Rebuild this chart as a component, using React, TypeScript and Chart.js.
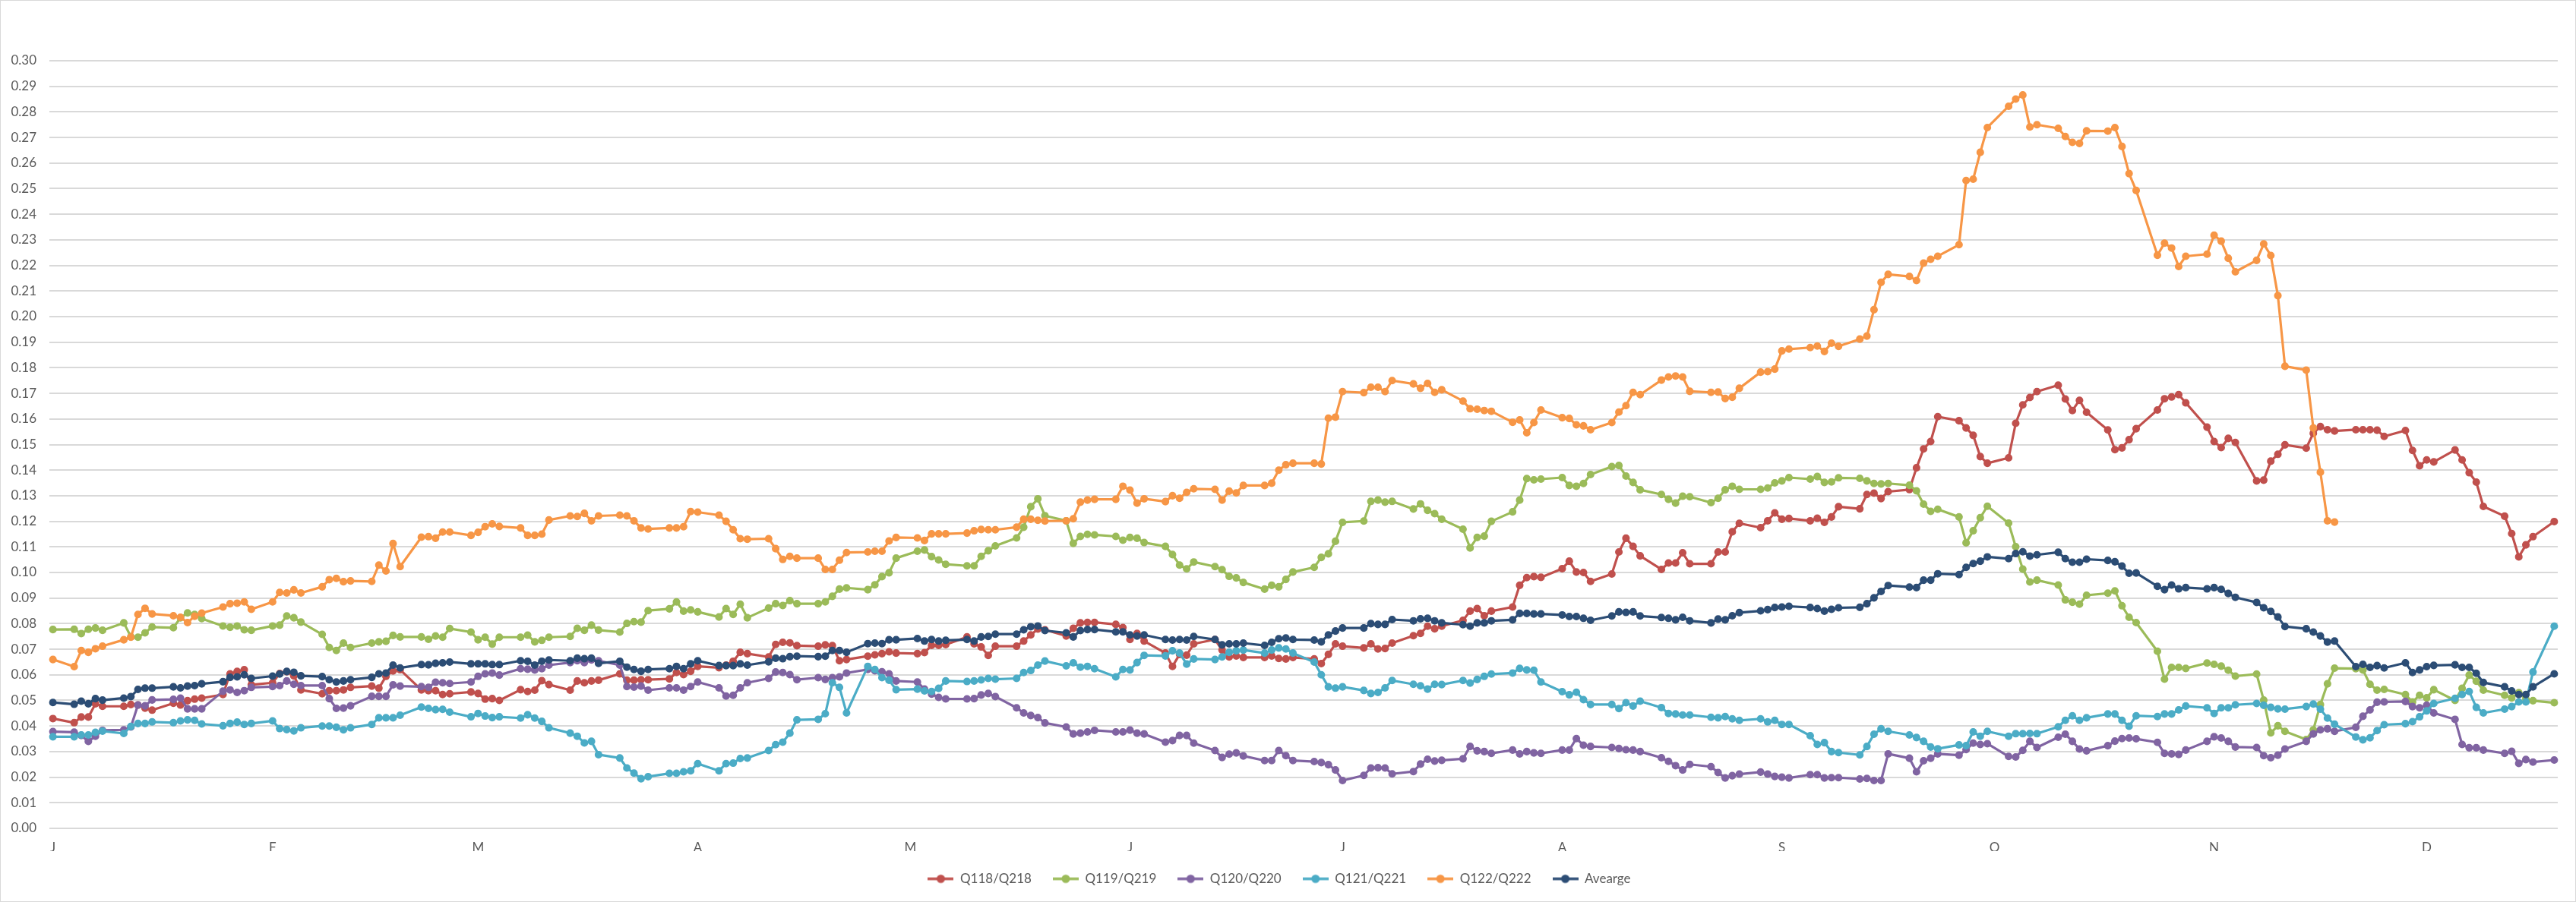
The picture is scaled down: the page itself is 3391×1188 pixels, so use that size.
import { useEffect, useRef } from "react"
import { Chart, registerables } from "chart.js"

Chart.register(...registerables)

// x axis: one letter per month, placed on the first day of the month
// (day 0 = Jan 1 of a leap year that starts on a Friday)
const monthLabels = ["J", "F", "M", "A", "M", "J", "J", "A", "S", "O", "N", "D"]
const monthStartDays = [0, 31, 60, 91, 121, 152, 182, 213, 244, 274, 305, 335]
const lastDay = 353 // Dec 19

// y axis ticks
const yTicks = { min: 0, max: 0.3, step: 0.01 }

const seriesNames = ["Q118/Q218", "Q119/Q219", "Q120/Q220", "Q121/Q221", "Q122/Q222", "Avearge"]
const seriesColors = ["#C0504D", "#9BBB59", "#8064A2", "#4BACC6", "#F79646", "#2C4D75"]

// one value per weekday, from Jan 1 to the last day (rows roughly = months)
const q118 = [
  0.0429, 0.0413, 0.0435, 0.0435, 0.0487, 0.0477, 0.0477, 0.0484, 0.0482, 0.047, 0.0462, 0.0489, 0.0482, 0.0499, 0.0505, 0.0509, 0.0523, 0.0604, 0.0613, 0.062, 0.0561,
  0.0569, 0.0605, 0.0612, 0.0596, 0.0541, 0.0526, 0.0538, 0.0538, 0.0541, 0.0551, 0.0556, 0.0548, 0.0594, 0.0615, 0.062, 0.0541, 0.0538, 0.0538, 0.0523, 0.0526,
  0.0533, 0.0527, 0.0505, 0.0507, 0.05, 0.0542, 0.0535, 0.054, 0.0577, 0.0562, 0.054, 0.0576, 0.0569, 0.0576, 0.0579, 0.0604, 0.0579, 0.0579, 0.0581, 0.0581, 0.0584, 0.0609, 0.0601,
  0.0614, 0.0633, 0.0628, 0.0638, 0.0653, 0.0688, 0.0683, 0.067, 0.0719, 0.0727, 0.0725, 0.0714, 0.0712, 0.0717, 0.0714, 0.0655, 0.066, 0.0673, 0.0678, 0.0683, 0.069, 0.0685,
  0.0683, 0.0687, 0.0715, 0.0715, 0.0718, 0.0748, 0.0721, 0.0709, 0.0676, 0.0712, 0.0712, 0.0732, 0.0756, 0.0779, 0.0776, 0.0752, 0.0782, 0.0803, 0.0805, 0.0805, 0.0797,
  0.0785, 0.0738, 0.0762, 0.0732, 0.0685, 0.0633, 0.068, 0.0677, 0.0721, 0.0738, 0.0697, 0.067, 0.0674, 0.0668, 0.0668, 0.0674, 0.0664, 0.0662, 0.0668, 0.0662, 0.0644, 0.068,
  0.0721, 0.0712, 0.0705, 0.0721, 0.0701, 0.0703, 0.0724, 0.0753, 0.0762, 0.079, 0.078, 0.079, 0.0813, 0.0849, 0.0859, 0.0831, 0.0849, 0.0865, 0.095, 0.098, 0.0984, 0.0981,
  0.1015, 0.1044, 0.1002, 0.1, 0.0965, 0.0994, 0.108, 0.1134, 0.1102, 0.1065, 0.1012, 0.1037, 0.1037, 0.1077, 0.1034, 0.1034, 0.108, 0.108, 0.1159, 0.1192, 0.1175, 0.1202,
  0.1233, 0.1208, 0.1211, 0.1202, 0.1212, 0.1196, 0.1217, 0.1257, 0.1249, 0.1305, 0.131, 0.1289, 0.1316, 0.1324, 0.1409, 0.1483, 0.1512, 0.1609, 0.1593, 0.1565, 0.1536, 0.1453,
  0.1427, 0.1448, 0.1583, 0.1655, 0.1684, 0.1707, 0.1732, 0.1678, 0.1633, 0.1673, 0.1626, 0.1557, 0.148, 0.1487, 0.1519, 0.1562, 0.1635, 0.1679, 0.1686, 0.1695, 0.1663,
  0.1568, 0.1512, 0.1488, 0.1524, 0.1508, 0.1358, 0.1361, 0.1435, 0.1462, 0.1499, 0.1486, 0.1544, 0.157, 0.1558, 0.1553, 0.1558, 0.1558, 0.1558, 0.1556, 0.1532, 0.1555, 0.1477,
  0.1417, 0.144, 0.1432, 0.1479, 0.144, 0.139, 0.1353, 0.1258, 0.122, 0.1152, 0.1061, 0.1108, 0.114, 0.1199,
]

const q119 = [
  0.0777, 0.0778, 0.0761, 0.0778, 0.0783, 0.0774, 0.0803, 0.0749, 0.0747, 0.0764, 0.0787, 0.0784, 0.0823, 0.0842, 0.0836, 0.082, 0.0791, 0.0786, 0.0791, 0.0776, 0.0774,
  0.0791, 0.0794, 0.083, 0.0823, 0.0806, 0.0758, 0.0707, 0.0695, 0.0724, 0.0707, 0.0724, 0.0729, 0.0731, 0.0754, 0.0748, 0.0748, 0.0739, 0.0752, 0.0747, 0.0781,
  0.0767, 0.0737, 0.0747, 0.072, 0.0747, 0.0747, 0.0755, 0.0729, 0.0735, 0.0747, 0.075, 0.0782, 0.0774, 0.0794, 0.0775, 0.0767, 0.0801, 0.0808, 0.0806, 0.0851, 0.0858, 0.0885, 0.0849,
  0.0854, 0.0846, 0.0826, 0.0859, 0.0836, 0.0876, 0.0823, 0.0861, 0.0878, 0.0871, 0.089, 0.0878, 0.0878, 0.0885, 0.0907, 0.0935, 0.094, 0.0933, 0.0952, 0.0984, 0.0999, 0.1056,
  0.1083, 0.1088, 0.1062, 0.1049, 0.1032, 0.1026, 0.1026, 0.1063, 0.1085, 0.1104, 0.1135, 0.1177, 0.1257, 0.1288, 0.1222, 0.1202, 0.1114, 0.1141, 0.1149, 0.1147, 0.1141,
  0.1126, 0.1137, 0.1134, 0.1117, 0.1102, 0.107, 0.1029, 0.1014, 0.1041, 0.1023, 0.1011, 0.0985, 0.0979, 0.0961, 0.0935, 0.095, 0.0944, 0.0973, 0.1002, 0.102, 0.1059, 0.1073,
  0.1122, 0.1196, 0.1201, 0.1278, 0.1283, 0.1275, 0.1278, 0.1248, 0.1268, 0.1243, 0.123, 0.1208, 0.1169, 0.1096, 0.1137, 0.1142, 0.12, 0.1237, 0.1283, 0.1367, 0.1362, 0.1365,
  0.1371, 0.134, 0.1337, 0.1348, 0.1383, 0.1414, 0.1418, 0.1377, 0.1352, 0.1323, 0.1305, 0.1286, 0.1271, 0.1298, 0.1296, 0.1273, 0.129, 0.1323, 0.1337, 0.1325, 0.1325, 0.133,
  0.135, 0.1358, 0.1371, 0.1365, 0.1375, 0.1352, 0.1354, 0.137, 0.1368, 0.1358, 0.1348, 0.1346, 0.1348, 0.1341, 0.1319, 0.1267, 0.1239, 0.1247, 0.1217, 0.1116, 0.1163, 0.1214,
  0.1259, 0.1193, 0.1101, 0.1013, 0.0963, 0.097, 0.0951, 0.0893, 0.0884, 0.0876, 0.0911, 0.0919, 0.0928, 0.087, 0.0825, 0.0804, 0.0692, 0.0583, 0.0629, 0.0629, 0.0625,
  0.0646, 0.0641, 0.0634, 0.0618, 0.0595, 0.0603, 0.0501, 0.0373, 0.0401, 0.0379, 0.0347, 0.0385, 0.0484, 0.0565, 0.0626, 0.0624, 0.0619, 0.0563, 0.054, 0.0543, 0.0523, 0.0494,
  0.052, 0.051, 0.0542, 0.05, 0.0547, 0.0599, 0.0575, 0.054, 0.052, 0.051, 0.053, 0.0505, 0.0499, 0.0491,
]

const q120 = [
  0.0378, 0.0376, 0.0363, 0.034, 0.036, 0.0383, 0.0385, 0.0396, 0.0482, 0.0479, 0.0502, 0.0504, 0.0509, 0.0467, 0.0467, 0.0467, 0.0536, 0.0541, 0.0531, 0.0538, 0.0551,
  0.0554, 0.0558, 0.0576, 0.0563, 0.0558, 0.0558, 0.0507, 0.0469, 0.047, 0.0479, 0.0516, 0.0516, 0.0516, 0.0561, 0.0556, 0.0554, 0.0551, 0.0571, 0.0569, 0.0566,
  0.0572, 0.0594, 0.0604, 0.0607, 0.0599, 0.0624, 0.0622, 0.0619, 0.0624, 0.0638, 0.0648, 0.0655, 0.0648, 0.0658, 0.0655, 0.0638, 0.0554, 0.0552, 0.0556, 0.054, 0.0549, 0.0549, 0.054,
  0.0554, 0.0572, 0.0549, 0.0517, 0.052, 0.0549, 0.0569, 0.0586, 0.0611, 0.0609, 0.0601, 0.0581, 0.0589, 0.0582, 0.0589, 0.0592, 0.0607, 0.0621, 0.0616, 0.0612, 0.0604, 0.0576,
  0.0572, 0.0544, 0.0525, 0.0512, 0.0506, 0.0506, 0.0507, 0.0521, 0.0527, 0.0515, 0.0471, 0.0451, 0.0441, 0.0433, 0.0412, 0.0396, 0.0369, 0.0372, 0.0377, 0.0383, 0.0377,
  0.0377, 0.0384, 0.0372, 0.0369, 0.0337, 0.0343, 0.0363, 0.0363, 0.0333, 0.0304, 0.0277, 0.029, 0.0295, 0.0283, 0.0265, 0.0265, 0.0304, 0.0284, 0.0265, 0.0261, 0.0257, 0.0249,
  0.0228, 0.0187, 0.0207, 0.0236, 0.0237, 0.0236, 0.0213, 0.0222, 0.0251, 0.027, 0.0263, 0.0266, 0.0272, 0.032, 0.0303, 0.03, 0.0293, 0.0306, 0.0291, 0.03, 0.0295, 0.0293,
  0.0306, 0.0306, 0.0351, 0.0325, 0.032, 0.0316, 0.0312, 0.0307, 0.0306, 0.03, 0.0276, 0.0262, 0.0245, 0.0228, 0.025, 0.0241, 0.0218, 0.0197, 0.0206, 0.0212, 0.022, 0.0212,
  0.0203, 0.02, 0.0197, 0.021, 0.021, 0.0197, 0.0198, 0.0198, 0.0193, 0.0195, 0.0187, 0.0187, 0.0291, 0.0274, 0.0221, 0.0264, 0.0274, 0.0291, 0.0286, 0.0308, 0.0333, 0.0328,
  0.0331, 0.0281, 0.0279, 0.0305, 0.034, 0.0316, 0.0356, 0.0368, 0.034, 0.031, 0.0303, 0.0323, 0.0341, 0.0351, 0.0353, 0.035, 0.0336, 0.0293, 0.0291, 0.0289, 0.0306,
  0.034, 0.0358, 0.0353, 0.034, 0.0318, 0.0316, 0.0284, 0.0276, 0.0286, 0.031, 0.034, 0.0369, 0.0385, 0.0389, 0.0379, 0.0395, 0.0438, 0.0463, 0.0493, 0.0494, 0.0496, 0.0476,
  0.0471, 0.0481, 0.0451, 0.0426, 0.0328, 0.0315, 0.0315, 0.0306, 0.0293, 0.0301, 0.0254, 0.0269, 0.0259, 0.0267,
]

const q121 = [
  0.0358, 0.0358, 0.0365, 0.0365, 0.0375, 0.038, 0.0371, 0.0398, 0.041, 0.041, 0.0416, 0.0413, 0.042, 0.0424, 0.0422, 0.0408, 0.0401, 0.041, 0.0415, 0.0406, 0.041,
  0.042, 0.039, 0.0386, 0.0381, 0.0393, 0.04, 0.04, 0.0395, 0.0385, 0.0393, 0.0406, 0.0432, 0.0432, 0.0432, 0.0442, 0.0474, 0.0469, 0.0464, 0.0465, 0.0454,
  0.0436, 0.0449, 0.0439, 0.0433, 0.0436, 0.0431, 0.0444, 0.0431, 0.0418, 0.0393, 0.0372, 0.036, 0.0334, 0.034, 0.0288, 0.0275, 0.0236, 0.0216, 0.0194, 0.0202, 0.0215, 0.0215, 0.0221,
  0.0225, 0.0253, 0.0225, 0.0253, 0.0255, 0.0273, 0.0275, 0.0304, 0.0327, 0.0337, 0.0372, 0.0424, 0.0426, 0.0448, 0.0569, 0.0551, 0.0451, 0.0633, 0.0621, 0.0589, 0.0579, 0.0542,
  0.0544, 0.0537, 0.0535, 0.0547, 0.0576, 0.0574, 0.0576, 0.058, 0.0586, 0.0583, 0.0586, 0.0609, 0.0617, 0.0638, 0.0654, 0.0635, 0.0647, 0.063, 0.0633, 0.0624, 0.0592,
  0.0621, 0.0619, 0.0648, 0.0676, 0.0674, 0.0694, 0.0685, 0.0642, 0.0662, 0.066, 0.067, 0.0688, 0.0694, 0.0697, 0.0685, 0.0697, 0.0705, 0.0701, 0.0685, 0.065, 0.06, 0.0553,
  0.0548, 0.0553, 0.0539, 0.0527, 0.0531, 0.0549, 0.0578, 0.0563, 0.0557, 0.0544, 0.0563, 0.0562, 0.0578, 0.0568, 0.0582, 0.0594, 0.0603, 0.0607, 0.0625, 0.0619, 0.0618, 0.0572,
  0.0534, 0.0522, 0.0532, 0.0503, 0.0484, 0.0484, 0.0468, 0.0491, 0.0478, 0.0497, 0.0472, 0.0449, 0.0447, 0.0443, 0.0443, 0.0434, 0.0432, 0.0437, 0.0428, 0.0422, 0.0428, 0.0416,
  0.0422, 0.0406, 0.0406, 0.0362, 0.0328, 0.0335, 0.03, 0.0296, 0.0287, 0.032, 0.0368, 0.0389, 0.0379, 0.0365, 0.0355, 0.034, 0.0318, 0.0311, 0.0326, 0.0323, 0.0377, 0.036,
  0.0379, 0.036, 0.037, 0.037, 0.0371, 0.037, 0.0397, 0.0422, 0.044, 0.0422, 0.0432, 0.0447, 0.0447, 0.0422, 0.0399, 0.044, 0.0437, 0.0447, 0.0447, 0.0463, 0.0478,
  0.0471, 0.0449, 0.0471, 0.0471, 0.0483, 0.0488, 0.0481, 0.0473, 0.0467, 0.0466, 0.0476, 0.0486, 0.0466, 0.0431, 0.0407, 0.0357, 0.0346, 0.0354, 0.0382, 0.0405, 0.0409, 0.0417,
  0.0436, 0.0459, 0.0488, 0.0508, 0.0523, 0.0535, 0.0473, 0.0451, 0.0466, 0.0476, 0.0494, 0.0494, 0.0611, 0.079,
]

// this series stops in mid-November
const q122 = [
  0.066, 0.0632, 0.0695, 0.0688, 0.0702, 0.0712, 0.0737, 0.0747, 0.0836, 0.086, 0.0838, 0.0831, 0.0825, 0.0804, 0.0829, 0.0841, 0.0865, 0.0878, 0.088, 0.0885, 0.0856,
  0.0885, 0.0922, 0.092, 0.0932, 0.092, 0.0944, 0.0972, 0.0977, 0.0964, 0.0967, 0.0965, 0.1029, 0.1006, 0.1113, 0.1023, 0.1138, 0.114, 0.1134, 0.1158, 0.1158,
  0.1145, 0.1157, 0.1179, 0.119, 0.118, 0.1174, 0.1145, 0.1145, 0.115, 0.1205, 0.1221, 0.1219, 0.1231, 0.1202, 0.1221, 0.1224, 0.1221, 0.1202, 0.1174, 0.117, 0.1174, 0.1174, 0.1179,
  0.1238, 0.1236, 0.1224, 0.12, 0.1167, 0.1132, 0.113, 0.1132, 0.1093, 0.1051, 0.1063, 0.1056, 0.1056, 0.1012, 0.1012, 0.1048, 0.1078, 0.108, 0.1083, 0.1083, 0.1123, 0.1137,
  0.1135, 0.1125, 0.1151, 0.1151, 0.1151, 0.1154, 0.1163, 0.1168, 0.1167, 0.1167, 0.1177, 0.1208, 0.1208, 0.1204, 0.1201, 0.1202, 0.121, 0.1275, 0.1283, 0.1286, 0.1286,
  0.1337, 0.1322, 0.1271, 0.1288, 0.1277, 0.13, 0.129, 0.1313, 0.1327, 0.1325, 0.1283, 0.1318, 0.1311, 0.134, 0.134, 0.1349, 0.14, 0.1421, 0.1427, 0.1427, 0.1424, 0.1603,
  0.1607, 0.1707, 0.1703, 0.1724, 0.1724, 0.1707, 0.175, 0.1737, 0.172, 0.1739, 0.1704, 0.1714, 0.167, 0.164, 0.1638, 0.1633, 0.163, 0.1587, 0.1596, 0.1546, 0.1586, 0.1635,
  0.1605, 0.1602, 0.1577, 0.1573, 0.1558, 0.1586, 0.1627, 0.1652, 0.1704, 0.1695, 0.1752, 0.1764, 0.1768, 0.1764, 0.1708, 0.1704, 0.1705, 0.168, 0.1685, 0.172, 0.1783, 0.1785,
  0.1795, 0.1866, 0.1873, 0.1879, 0.1885, 0.1864, 0.1896, 0.1884, 0.1912, 0.1924, 0.2027, 0.2134, 0.2165, 0.2157, 0.2141, 0.2209, 0.2224, 0.2236, 0.2281, 0.2532, 0.2537, 0.2642,
  0.2739, 0.2822, 0.285, 0.2866, 0.2741, 0.275, 0.2736, 0.2704, 0.2681, 0.2677, 0.2726, 0.2725, 0.2739, 0.2665, 0.2559, 0.2493, 0.224, 0.2287, 0.2268, 0.2196, 0.2236,
  0.2244, 0.2318, 0.2295, 0.2228, 0.2175, 0.222, 0.2284, 0.2239, 0.2082, 0.1806, 0.1791, 0.1565, 0.1392, 0.1202, 0.1197,
]

const avearge = [
  0.0492, 0.0485, 0.0497, 0.0487, 0.0507, 0.0501, 0.0509, 0.0515, 0.0543, 0.0548, 0.0548, 0.0553, 0.0549, 0.0556, 0.0558, 0.0565, 0.0573, 0.059, 0.0592, 0.06, 0.0586,
  0.0595, 0.0603, 0.0613, 0.061, 0.0596, 0.0593, 0.0581, 0.0572, 0.0576, 0.0581, 0.059, 0.0604, 0.0607, 0.0638, 0.0627, 0.064, 0.0639, 0.0645, 0.0647, 0.065,
  0.0643, 0.0643, 0.0643, 0.064, 0.064, 0.0655, 0.0653, 0.0638, 0.0653, 0.0658, 0.0655, 0.0665, 0.0663, 0.0665, 0.0645, 0.0653, 0.063, 0.0621, 0.0614, 0.0621, 0.0624, 0.0633, 0.0624,
  0.0643, 0.0655, 0.0636, 0.0636, 0.0636, 0.0643, 0.0638, 0.0651, 0.0665, 0.0663, 0.0671, 0.0673, 0.0671, 0.0673, 0.0695, 0.0695, 0.0688, 0.0722, 0.0724, 0.0722, 0.0737, 0.0737,
  0.0742, 0.0732, 0.0738, 0.0732, 0.0735, 0.0738, 0.0732, 0.0748, 0.075, 0.0759, 0.0759, 0.0776, 0.0788, 0.0791, 0.0773, 0.0764, 0.0748, 0.0773, 0.0777, 0.0777, 0.0768,
  0.0768, 0.0756, 0.0752, 0.0756, 0.0738, 0.0736, 0.0738, 0.0736, 0.075, 0.0738, 0.0717, 0.0721, 0.0721, 0.0724, 0.0715, 0.0727, 0.0741, 0.0744, 0.0738, 0.0736, 0.0729, 0.0756,
  0.0771, 0.0783, 0.0783, 0.08, 0.0797, 0.0797, 0.0816, 0.0811, 0.0819, 0.0821, 0.0811, 0.0803, 0.0796, 0.079, 0.0803, 0.0803, 0.0811, 0.0815, 0.084, 0.084, 0.0838, 0.0838,
  0.0834, 0.0828, 0.0828, 0.0821, 0.0813, 0.083, 0.0846, 0.0844, 0.0846, 0.083, 0.0824, 0.0821, 0.0815, 0.0825, 0.0811, 0.0803, 0.0818, 0.0815, 0.0831, 0.0843, 0.085, 0.0855,
  0.0863, 0.0865, 0.0868, 0.0863, 0.0859, 0.0849, 0.0856, 0.0862, 0.0864, 0.0878, 0.0901, 0.0926, 0.0949, 0.0943, 0.0941, 0.097, 0.097, 0.0995, 0.0992, 0.102, 0.1035, 0.1044,
  0.1061, 0.1054, 0.1074, 0.1081, 0.1064, 0.1069, 0.1079, 0.1054, 0.104, 0.104, 0.1052, 0.1047, 0.1042, 0.1025, 0.0997, 0.0998, 0.0946, 0.0933, 0.0951, 0.0936, 0.0941,
  0.0936, 0.0941, 0.0934, 0.0918, 0.0903, 0.0883, 0.0862, 0.0848, 0.0826, 0.0789, 0.078, 0.0767, 0.0752, 0.0728, 0.0732, 0.0632, 0.0641, 0.0629, 0.0636, 0.0627, 0.0647, 0.0609,
  0.0619, 0.0632, 0.0637, 0.0639, 0.0629, 0.0629, 0.0606, 0.057, 0.0553, 0.0537, 0.0523, 0.0523, 0.0553, 0.0604,
]

const seriesValues = [q118, q119, q120, q121, q122, avearge]

// weekdays only: Jan 1 is a Friday, so day d falls on weekday (5 + d) % 7
const tradingDays: number[] = []
for (let d = 0; d <= lastDay; d++) {
  const wd = (5 + d) % 7
  if (wd !== 0 && wd !== 6) tradingDays.push(d)
}

const FONT = "Lato, 'Open Sans', sans-serif"
const TEXT = "#595959"
const GRID = "#D9D9D9"

// line-with-marker swatch for the legend
function legendMarker(color: string) {
  const c = document.createElement("canvas")
  c.width = 34
  c.height = 14
  const g = c.getContext("2d")
  if (g) {
    g.strokeStyle = color
    g.lineWidth = 3.5
    g.beginPath()
    g.moveTo(0, 7)
    g.lineTo(34, 7)
    g.stroke()
    g.fillStyle = color
    g.beginPath()
    g.arc(17, 7, 5.5, 0, Math.PI * 2)
    g.fill()
  }
  return c
}

export default function App() {
  const chartRef = useRef<HTMLCanvasElement>(null)
  const chartInstance = useRef<Chart | null>(null)

  useEffect(() => {
    if (!chartRef.current) return

    if (chartInstance.current) {
      chartInstance.current.destroy()
    }

    const ctx = chartRef.current.getContext("2d")
    if (!ctx) return

    const datasets = seriesNames.map((name, i) => ({
      label: name,
      data: seriesValues[i].map((v, j) => ({ x: tradingDays[j], y: v })),
      borderColor: seriesColors[i],
      backgroundColor: seriesColors[i],
      pointBackgroundColor: seriesColors[i],
      pointBorderColor: seriesColors[i],
      borderWidth: 3.2,
      pointRadius: 4.3,
      pointBorderWidth: 1.5,
      borderJoinStyle: "round" as const,
      tension: 0,
      clip: false as const,
      order: seriesNames.length - i, // later series drawn on top, like Excel
    }))

    chartInstance.current = new Chart(ctx, {
      type: "line",
      data: { datasets },
      options: {
        responsive: false,
        animation: false,
        layout: { padding: { top: 79, right: 23, bottom: 11, left: 0 } },
        scales: {
          x: {
            type: "linear",
            min: -0.5,
            max: lastDay + 0.5,
            grid: { display: false, drawTicks: false },
            border: { display: false },
            afterBuildTicks: (scale) => {
              scale.ticks = monthStartDays.map((v) => ({ value: v }))
            },
            afterFit: (scale) => {
              scale.height = 30
            },
            ticks: {
              autoSkip: false,
              maxRotation: 0,
              minRotation: 0,
              padding: 15,
              color: TEXT,
              font: { family: FONT, size: 17 },
              callback: (value) => monthLabels[monthStartDays.indexOf(Number(value))] ?? "",
            },
          },
          y: {
            min: yTicks.min,
            max: yTicks.max,
            grid: { color: GRID, lineWidth: 2, drawTicks: false },
            border: { display: false },
            afterFit: (scale) => {
              scale.width = 64
            },
            ticks: {
              stepSize: yTicks.step,
              padding: 17,
              color: TEXT,
              font: { family: FONT, size: 17 },
              callback: (value) => Number(value).toFixed(2),
            },
          },
        },
        plugins: {
          tooltip: { enabled: false },
          legend: {
            position: "bottom",
            labels: {
              usePointStyle: true,
              pointStyleWidth: 34,
              padding: 28,
              color: TEXT,
              font: { family: FONT, size: 17 },
              generateLabels: (chart) =>
                chart.data.datasets.map((ds, i) => ({
                  text: ds.label as string,
                  fillStyle: seriesColors[i],
                  strokeStyle: seriesColors[i],
                  lineWidth: 0,
                  pointStyle: legendMarker(seriesColors[i]),
                  hidden: false,
                  datasetIndex: i,
                  fontColor: TEXT,
                })),
            },
          },
        },
      },
    })

    return () => {
      if (chartInstance.current) {
        chartInstance.current.destroy()
      }
    }
  }, [])

  return (
    <div
      style={{
        position: "absolute",
        left: 0,
        top: 0,
        width: 3391,
        height: 1188,
        border: "1px solid #D9D9D9",
        boxSizing: "border-box",
        background: "#fff",
      }}
    >
      <canvas ref={chartRef} width={3389} height={1186} />
    </div>
  )
}
